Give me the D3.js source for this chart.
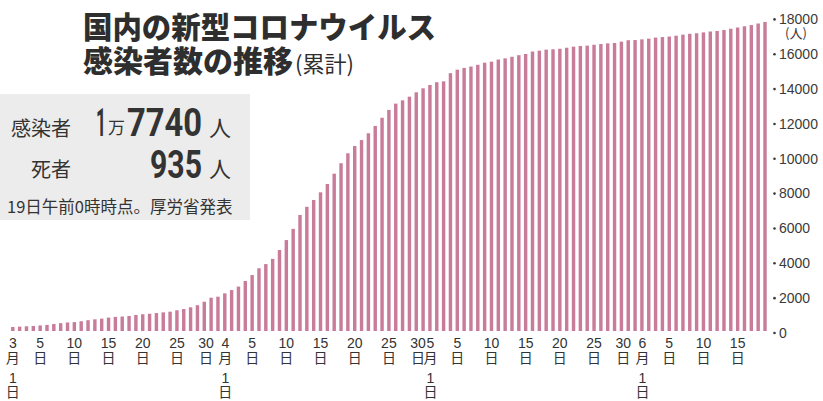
<!DOCTYPE html>
<html>
<head>
<meta charset="utf-8">
<script src="https://cdn.jsdelivr.net/npm/d3@7"></script>
<style>
  body { margin: 0; background: #fff; }
  svg { display: block; }
</style>
</head>
<body>
<div id="chart"></div>
<script>
// cumulative cases, one bar per day from Mar 1 to Jun 19
var dates = d3.timeDay.range(new Date(2020, 2, 1), new Date(2020, 5, 20));
var values = [
  230, 250, 270, 290, 320, 350, 400, 450, 490, 510,
  560, 620, 670, 710, 770, 810, 830, 860, 920, 960,
  990, 1030, 1070, 1110, 1190, 1260, 1360, 1480, 1680, 1910,
  1970, 2160, 2350, 2550, 2870, 3210, 3600, 3840, 4140, 4650,
  5220, 5860, 6660, 7130, 7520, 7960, 8440, 9030, 9630, 10200,
  10620, 10960, 11350, 11770, 12240, 12690, 13050, 13240, 13450, 13700,
  13930, 14120, 14280, 14330, 14800, 15000, 15100, 15180, 15280, 15400,
  15460, 15580, 15650, 15740, 15830, 15900, 16040, 16090, 16150, 16170,
  16200, 16260, 16320, 16360, 16380, 16430, 16470, 16510, 16530, 16610,
  16690, 16700, 16740, 16780, 16840, 16870, 16900, 16950, 17010, 17060,
  17090, 17140, 17190, 17220, 17280, 17350, 17420, 17490, 17560, 17650,
  17740
];
var xTicks = ["3/1", "3/5", "3/10", "3/15", "3/20", "3/25", "3/30",
              "4/1", "4/5", "4/10", "4/15", "4/20", "4/25", "4/30",
              "5/1", "5/5", "5/10", "5/15", "5/20", "5/25", "5/30",
              "6/1", "6/5", "6/10", "6/15"];
var yTicks = [0, 2000, 4000, 6000, 8000, 10000, 12000, 14000, 16000, 18000];

var titleLine1 = "国内の新型コロナウイルス";
var titleLine2 = "感染者数の推移";
var titleNote = "(累計)";
var infected = {label: "感染者", head: "1", man: "万", tail: "7740", unit: "人"};
var deaths = {label: "死者", num: "935", unit: "人"};
var source = "19日午前0時時点。厚労省発表";

var W = 823, H = 401;
var fmt = d3.timeFormat("%-m/%-d");
var cats = dates.map(fmt);
var data = cats.map(function(c, i) { return {cat: c, value: values[i]}; });

var svg = d3.select("#chart").append("svg").attr("width", W).attr("height", H);

var x = d3.scaleBand().domain(cats).range([11.1, 766.7]).paddingInner(0.5);
var y = d3.scaleLinear().domain([0, 18000]).range([331, 17.4]);

var jp = "'Noto Sans CJK JP', sans-serif";
var num = "'Liberation Sans', 'Noto Sans CJK JP', sans-serif";
var big = "Roboto, 'Liberation Sans', sans-serif";

// gray info box
svg.append("rect")
    .attr("x", 0).attr("y", 94).attr("width", 250).attr("height", 126)
    .attr("fill", "#ececec");

// bars
svg.append("g").selectAll("rect")
    .data(data)
  .enter().append("rect")
    .attr("x", function(d) { return x(d.cat); })
    .attr("y", function(d) { return y(d.value); })
    .attr("width", x.bandwidth())
    .attr("height", function(d) { return y(0) - y(d.value); })
    .attr("fill", "#c97b9a");

// right axis with dot ticks
var yAxis = svg.append("g")
    .attr("transform", "translate(771,0)")
    .call(d3.axisRight(y).tickValues(yTicks).tickFormat(d3.format("d")).tickSize(0).tickPadding(8));
yAxis.select(".domain").remove();
yAxis.selectAll(".tick text")
    .attr("dy", "0.45em")
    .attr("fill", "#3a3a3a")
    .style("font-family", num)
    .style("font-size", "14px");
yAxis.selectAll(".tick").append("circle")
    .attr("cx", 3.5).attr("cy", 1.5).attr("r", 1.3)
    .attr("fill", "#3a3a3a");
svg.append("text")
    .attr("x", 796).attr("y", 38)
    .attr("text-anchor", "middle")
    .attr("fill", "#3a3a3a")
    .style("font-family", jp)
    .style("font-size", "13px")
    .text("(人)");

// bottom axis, stacked labels
var xAxis = svg.append("g")
    .attr("transform", "translate(0,331)")
    .call(d3.axisBottom(x).tickValues(xTicks).tickSize(0));
xAxis.select(".domain").remove();
xAxis.selectAll(".tick text").each(function(d) {
  var p = d.split("/");
  var rows = p[1] === "1" ? [p[0], "月", "1", "日"] : [p[1], "日"];
  // "30" sits just left of the next month's label
  var dx = p[1] === "30" ? -5 : (p[1] === "1" && p[0] !== "3" ? 0.5 : 0);
  var t = d3.select(this).text(null)
      .attr("y", 0).attr("dy", null)
      .attr("fill", "#333")
      .style("font-family", num)
      .style("font-size", "14px");
  var ys = [17, 31.5, 52, 66];
  rows.forEach(function(r, i) {
    t.append("tspan").attr("x", dx).attr("y", ys[i]).text(r);
  });
});

// title
svg.append("text")
    .attr("x", 83).attr("y", 38)
    .attr("fill", "#2e2e2e")
    .style("font-family", jp).style("font-weight", 900).style("font-size", "30px")
    .attr("textLength", 353).attr("lengthAdjust", "spacingAndGlyphs")
    .text(titleLine1);
var t2 = svg.append("text")
    .attr("x", 83).attr("y", 72)
    .attr("fill", "#2e2e2e")
    .style("font-family", jp);
t2.append("tspan").style("font-weight", 900).style("font-size", "30px").text(titleLine2);
t2.append("tspan").attr("dx", 2).style("font-weight", 400).style("font-size", "22px").text(titleNote);

// info box: each line is one text with positioned pieces
function line(yy, parts) {
  var t = svg.append("text").attr("y", yy).attr("fill", "#333");
  parts.forEach(function(p) {
    var s = t.append("tspan")
        .attr("x", p.x)
        .attr("dy", p.dy || 0)
        .style("font-family", p.bold ? big : jp)
        .style("font-weight", p.bold ? 700 : 400)
        .style("font-size", p.size + "px")
        .text(p.txt);
    if (p.len) s.attr("textLength", p.len).attr("lengthAdjust", "spacingAndGlyphs");
  });
}
line(136, [
  {txt: infected.label, x: 11, size: 20},
  {txt: infected.head, x: 96, size: 38, bold: true, len: 10},
  {txt: infected.man, x: 108, size: 17, dy: -2},
  {txt: infected.tail, x: 127, size: 38, bold: true, len: 75, dy: 2},
  {txt: infected.unit, x: 209, size: 22}
]);
line(177, [
  {txt: deaths.label, x: 31, size: 20},
  {txt: deaths.num, x: 150, size: 38, bold: true, len: 52, dy: 1},
  {txt: deaths.unit, x: 209, size: 22, dy: -1}
]);
svg.append("text")
    .attr("x", 7).attr("y", 213)
    .attr("fill", "#333")
    .style("font-family", jp)
    .style("font-size", "16.5px")
    .text(source);
</script>
</body>
</html>
